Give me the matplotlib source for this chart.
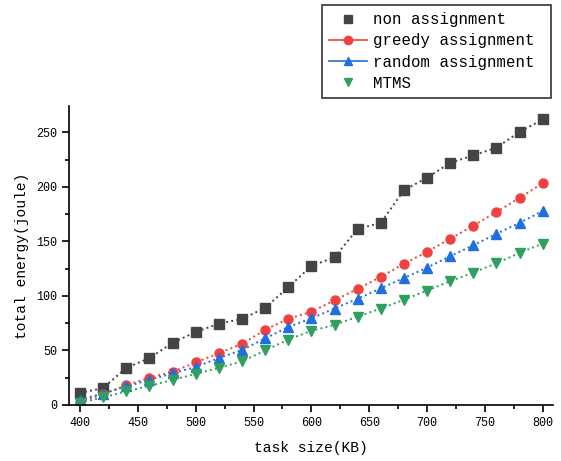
import matplotlib
matplotlib.use("Agg")
import matplotlib.pyplot as plt
from matplotlib.lines import Line2D
from matplotlib.ticker import MultipleLocator

task_size = [400, 420, 440, 460, 480, 500, 520, 540, 560, 580, 600,
             620, 640, 660, 680, 700, 720, 740, 760, 780, 800]
non_assignment = [11, 15.5, 34, 43, 57, 67, 74.5, 79, 89, 108, 127.5,
                  135.5, 161.5, 167, 197, 208.5, 222, 229, 236, 250.5, 262]
greedy_assignment = [3, 10, 18, 25, 30.5, 39, 47.5, 56, 69, 79, 85.5,
                     96, 106.5, 117.5, 129.5, 140.5, 152.5, 164.5, 177, 190, 203.5]
random_assignment = [5, 10.5, 17, 23, 29, 35, 43, 50.5, 61, 71.5, 79.5,
                     88.5, 97.5, 107, 116.5, 126, 136.5, 146.5, 157, 167, 178]
mtms = [2, 7, 12.5, 17.5, 23, 28.5, 34, 40, 50, 60, 68,
        73.5, 81, 88.5, 96.5, 105, 113.5, 121.5, 130, 139.5, 148]

labels = ["non assignment", "greedy assignment", "random assignment", "MTMS"]
colors = ["#444444", "#f04040", "#1f6fdf", "#30a060"]
markers = ["s", "o", "^", "v"]
series = [non_assignment, greedy_assignment, random_assignment, mtms]

font = "Liberation Mono"

fig = plt.figure(figsize=(5.61, 4.61), dpi=100)
ax = fig.add_axes([0.123, 0.1215, 0.863, 0.648])

for ys, c, m in zip(series, colors, markers):
    ax.plot(task_size, ys, linestyle=":", linewidth=1.4, color=c,
            marker=m, markersize=6.5, markeredgecolor=c, markerfacecolor=c)

ax.set_xlim(390.5, 809)
ax.set_ylim(0, 274)
ax.xaxis.set_major_locator(MultipleLocator(50))
ax.xaxis.set_minor_locator(MultipleLocator(25))
ax.yaxis.set_major_locator(MultipleLocator(50))
ax.yaxis.set_minor_locator(MultipleLocator(25))
ax.tick_params(which="major", direction="out", length=5, width=1.2, labelsize=8.5)
ax.tick_params(which="minor", direction="out", length=3, width=1.2)
for lab in ax.get_xticklabels() + ax.get_yticklabels():
    lab.set_fontfamily(font)
ax.spines["top"].set_visible(False)
ax.spines["right"].set_visible(False)
ax.spines["left"].set_linewidth(1.2)
ax.spines["bottom"].set_linewidth(1.2)

ax.set_xlabel("task size(KB)", fontsize=10.5, fontfamily=font, labelpad=9)
ax.set_ylabel("total energy(joule)", fontsize=10.5, fontfamily=font, labelpad=5)

handles = [
    Line2D([], [], color=colors[0], marker="s", linestyle="none", markersize=6),
    Line2D([], [], color=colors[1], marker="o", linestyle="-", markersize=6, linewidth=1.2),
    Line2D([], [], color=colors[2], marker="^", linestyle="-", markersize=6, linewidth=1.2),
    Line2D([], [], color=colors[3], marker="v", linestyle="none", markersize=6),
]
leg = fig.legend(handles, labels, loc="upper left",
                 bbox_to_anchor=(322 / 561, 1 - 97 / 461, 229 / 561, 92 / 461),
                 mode="expand",
                 prop={"family": font, "size": 11.3},
                 frameon=True, fancybox=False, edgecolor="black",
                 handlelength=2.4, handletextpad=0.4, borderpad=0.45,
                 labelspacing=0.4, borderaxespad=0)
leg.get_frame().set_linewidth(1.2)

fig.savefig("out.png", dpi=100)
